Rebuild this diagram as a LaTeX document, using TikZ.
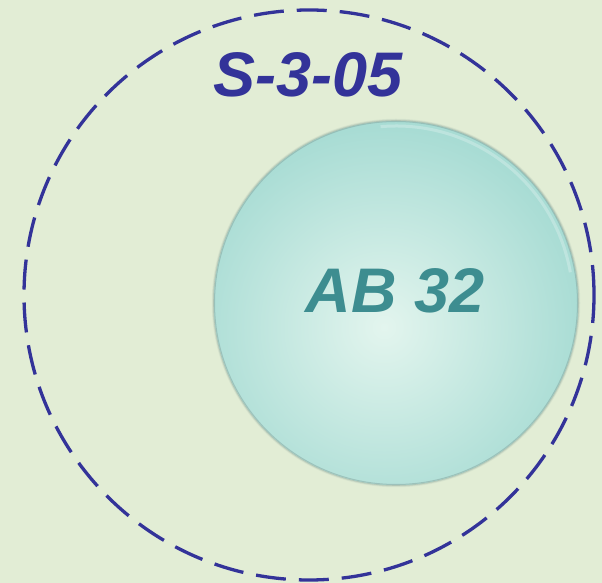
\documentclass[tikz,border=0pt]{standalone}
\usepackage{fontspec}
\setmainfont{Liberation Sans}
\usetikzlibrary{shadings}
\definecolor{bgcol}{HTML}{E2EDD5}
\definecolor{setblue}{HTML}{333399}
\definecolor{tealtext}{HTML}{3D8D90}
\definecolor{ballcore}{HTML}{E3F5EE}
\definecolor{ballrim}{HTML}{A8DCD4}
\definecolor{rimshade}{HTML}{7F9C96}
\tikzset{
  settitle/.style={font=\fontsize{63}{63}\selectfont\bfseries\itshape, text=setblue, inner sep=0pt},
  balltitle/.style={font=\fontsize{63}{63}\selectfont\bfseries\itshape, text=tealtext, inner sep=0pt},
  dashring/.style={draw=setblue, line width=3.3pt, dash pattern=on 30pt off 13pt},
}
\begin{document}
\begin{tikzpicture}[x=1pt,y=1pt]
  % canvas
  \fill[bgcol] (0,0) rectangle (602,583);
  \useasboundingbox (0,0) rectangle (602,583);

  % outer dashed set boundary
  \coordinate (ringc) at (309,288);
  \draw[dashring] (ringc) circle[radius=285];

  % soft shadow ring round the sphere
  \coordinate (ballc) at (396,280);
  \foreach \w/\o in {4.5/0.10, 3/0.18, 1.6/0.30}
    \draw[rimshade, line width=\w pt, opacity=\o] (ballc) circle[radius=182];

  % inner sphere
  \begin{scope}
    \clip (ballc) circle[radius=182];
    \fill[ballrim] (ballc) circle[radius=182];
    \shade[inner color=ballcore, outer color=ballrim]
      (384,256) circle[radius=200];
  \end{scope}
  % faint rim: darker lower-left edge, pale upper-right highlight
  \draw[rimshade, line width=1pt, opacity=0.45] (ballc) circle[radius=181.5];
  \draw[white, line width=3pt, opacity=0.25] (ballc) ++(10:177) arc[start angle=10, end angle=95, radius=177];

  % labels
  \node[settitle, anchor=base] (settext) at (308,486) {S-3-05};
  \node[balltitle, anchor=base] (balltext) at (395,270) {AB 32};
\end{tikzpicture}
\end{document}
